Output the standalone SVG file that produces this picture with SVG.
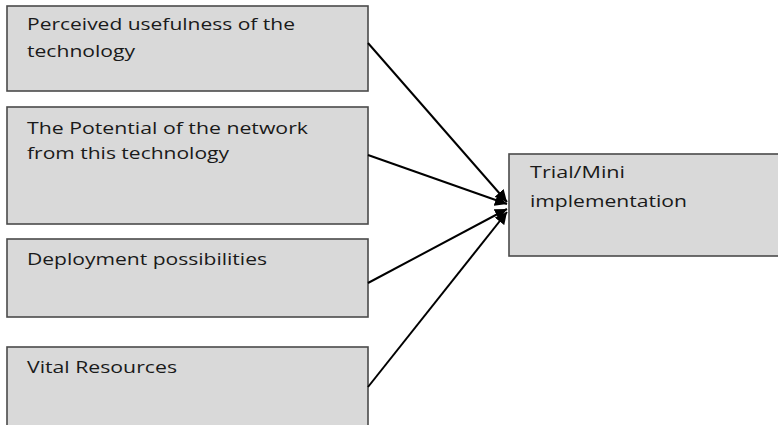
<svg xmlns="http://www.w3.org/2000/svg" width="778" height="425" viewBox="0 0 778 425">
<style>
.box{fill:#d9d9d9;stroke:#4a4a4a;stroke-width:1.6}
.t{font-family:"Open Sans","DejaVu Sans",sans-serif;font-size:16px;fill:#1a1a1a}
.c{stroke:#000;stroke-width:2;fill:none;marker-end:url(#ah)}
</style>
<defs>
<marker id="ah" viewBox="0 0 10 10" refX="10" refY="5" markerWidth="6" markerHeight="6" orient="auto" markerUnits="strokeWidth">
<path d="M0,0 L10,5 L0,10 z" fill="#000"/>
</marker>
</defs>
<rect width="778" height="425" fill="#fff"/>
<g id="n1"><rect class="box" x="7" y="6" width="361" height="85"/>
<text class="t" x="27" y="30" textLength="268" lengthAdjust="spacingAndGlyphs">Perceived usefulness of the</text>
<text class="t" x="27" y="57" textLength="108" lengthAdjust="spacingAndGlyphs">technology</text></g>
<g id="n2"><rect class="box" x="7" y="107" width="361" height="117"/>
<text class="t" x="27" y="134" textLength="281" lengthAdjust="spacingAndGlyphs">The Potential of the network</text>
<text class="t" x="27" y="159" textLength="202" lengthAdjust="spacingAndGlyphs">from this technology</text></g>
<g id="n3"><rect class="box" x="7" y="239" width="361" height="78"/>
<text class="t" x="27" y="265" textLength="240" lengthAdjust="spacingAndGlyphs">Deployment possibilities</text></g>
<g id="n4"><rect class="box" x="7" y="347" width="361" height="90"/>
<text class="t" x="27" y="373" textLength="150" lengthAdjust="spacingAndGlyphs">Vital Resources</text></g>
<g id="n5"><rect class="box" x="509" y="154" width="275" height="102"/>
<text class="t" x="530" y="178" textLength="95" lengthAdjust="spacingAndGlyphs">Trial/Mini</text>
<text class="t" x="530" y="207" textLength="157" lengthAdjust="spacingAndGlyphs">implementation</text></g>
<g id="connectors">
<line class="c" x1="368" y1="43" x2="507" y2="202"/>
<line class="c" x1="368" y1="155" x2="507" y2="204"/>
<line class="c" x1="368" y1="283" x2="507" y2="209"/>
<line class="c" x1="368" y1="387" x2="507" y2="212"/>
</g>
</svg>
